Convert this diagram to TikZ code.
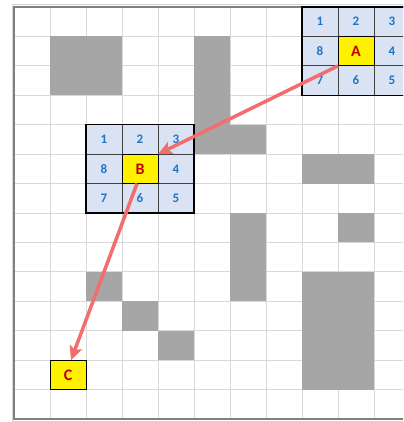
\documentclass[tikz,border=0pt]{standalone}
\usepackage{fontspec}
\setmainfont{Carlito}
\usetikzlibrary{arrows.meta}
\definecolor{gridgray}{HTML}{D9D9D9}
\definecolor{obst}{HTML}{A6A6A6}
\definecolor{cellblue}{HTML}{DAE3F3}
\definecolor{numblue}{HTML}{1F74C4}
\definecolor{letred}{HTML}{C00000}
\definecolor{arrred}{HTML}{F26E6E}
\definecolor{framedark}{HTML}{808080}
\definecolor{framelight}{HTML}{D4D4D4}
\begin{document}
\begin{tikzpicture}[x=36pt,y=-29.43pt,
  cellbox/.style={draw=black!75, line width=0.8pt, fill=cellblue, minimum width=36pt, minimum height=29.43pt, inner sep=0pt, outer sep=0pt, font=\fontsize{13}{13}\selectfont\bfseries, text=numblue},
  goalbox/.style={draw=black, line width=1pt, fill=yellow, minimum width=36pt, minimum height=29.43pt, inner sep=0pt, outer sep=0pt, font=\fontsize{16}{16}\selectfont\bfseries, text=letred},
  obstacle/.style={fill=obst},
  gridline/.style={draw=gridgray, line width=0.8pt},
  route/.style={draw=arrred, line width=3.5pt, -{Stealth[length=14pt,width=13pt,inset=3pt]}},
  outerborder/.style={draw=black, line width=1.3pt},
]
\clip (-0.3889,-0.2379) rectangle (10.806,14.101);
\fill[white] (-0.3889,-0.2379) rectangle (10.806,14.101);
% grid
\foreach \c in {1,...,11} \draw[gridline] (\c,0) -- (\c,14);
\foreach \r in {1,...,13} \draw[gridline] (0,\r) -- (11.5,\r);
% obstacles
\fill[obstacle] (1,1) rectangle (3,3);
\fill[obstacle] (5,1) rectangle (6,5);
\fill[obstacle] (6,4) rectangle (7,5);
\fill[obstacle] (8,5) rectangle (10,6);
\fill[obstacle] (9,7) rectangle (10,8);
\fill[obstacle] (6,7) rectangle (7,10);
\fill[obstacle] (2,9) rectangle (3,10);
\fill[obstacle] (3,10) rectangle (4,11);
\fill[obstacle] (4,11) rectangle (5,12);
\fill[obstacle] (8,9) rectangle (10,13);
% frame
\draw[framelight, line width=0.6pt] (11.5,-0.102) -- (-0.056,-0.102) -- (-0.056,14.07) -- (11.5,14.07);
\draw[framedark, line width=1.2pt] (0,0) -- (11.5,0);
\draw[framedark, line width=2pt] (0,-0.03) -- (0,14) -- (11.5,14);
% neighbourhood of A
\foreach \n/\dx/\dy in {1/-1/-1, 2/0/-1, 3/1/-1, 4/1/0, 5/1/1, 6/0/1, 7/-1/1, 8/-1/0}
  \node[cellbox] (a\n) at (9.5+\dx,1.5+\dy) {\n};
\draw[outerborder] (a1.north west) rectangle (a5.south east);
\node[goalbox] (A) at (9.5,1.5) {A};
% neighbourhood of B
\foreach \n/\dx/\dy in {1/-1/-1, 2/0/-1, 3/1/-1, 4/1/0, 5/1/1, 6/0/1, 7/-1/1, 8/-1/0}
  \node[cellbox] (b\n) at (3.5+\dx,5.5+\dy) {\n};
\draw[outerborder] (b1.north west) rectangle (b5.south east);
\node[goalbox] (B) at (3.5,5.5) {B};
% C
\node[goalbox] (C) at (1.5,12.5) {C};
% route
\draw[route] (A.south west) -- (B.north east);
\draw[route] ([xshift=-3pt]B.south) -- ([xshift=3pt]C.north);
\end{tikzpicture}
\end{document}
